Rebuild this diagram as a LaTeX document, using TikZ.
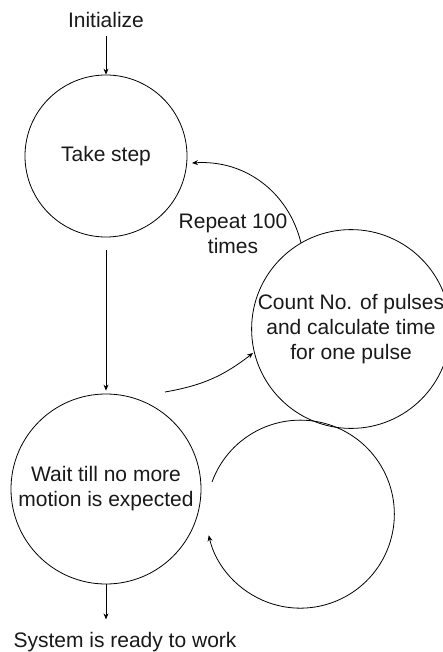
\documentclass[tikz,border=0pt]{standalone}
\usepackage{fontspec}
\setmainfont{Liberation Sans}
\usetikzlibrary{arrows.meta}
\begin{document}
\begin{tikzpicture}[x=1pt,y=1pt,
  txt/.style={font=\fontsize{21}{25}\selectfont, align=center, inner sep=0pt, text=black!90},
  state/.style={draw=black, line width=0.8pt, circle, inner sep=0pt, txt},
  conn/.style={draw=black, line width=0.8pt, -{Stealth[length=6pt,width=5pt]}}]
\useasboundingbox (0,0) rectangle (443,-652);
\node[txt] (init) at (106,-20) {Initialize};
\node[state, minimum size=162pt] (take) at (106,-156) {Take step};
\node[state, minimum size=188pt] (count) at (351,-329) {Count No. of pulses\\and calculate time\\for one pulse};
\node[state, minimum size=190pt] (wait) at (106,-489) {Wait till no more\\motion is expected};
\node[txt] (rep) at (233,-234) {Repeat 100\\times};
\node[txt] (ready) at (125,-642) {System is ready to work};
\coordinate (c2ts) at ([shift={(-50,86)}]count.center);
\coordinate (c2te) at ([shift={(86,-7)}]take.center);
\coordinate (w2cs) at ([shift={(59,97)}]wait.center);
\coordinate (w2ce) at ([shift={(-98,-24)}]count.center);
\coordinate (loopstart) at ([shift={(106,7)}]wait.center);
% connectors
\draw[conn] ([yshift=-8pt]init.south) -- (take.north);
\draw[conn, shorten <=13pt, shorten >=3pt] (take.south) -- (wait.north);
\draw[conn] (c2ts) to[bend right=40] (c2te);
\draw[conn] (w2cs) to[bend right=14] (w2ce);
\draw[conn] (loopstart) arc[start angle=160, end angle=-167, radius=94];
\draw[conn] (wait.south) -- ([yshift=-35pt]wait.south);
\end{tikzpicture}
\end{document}
